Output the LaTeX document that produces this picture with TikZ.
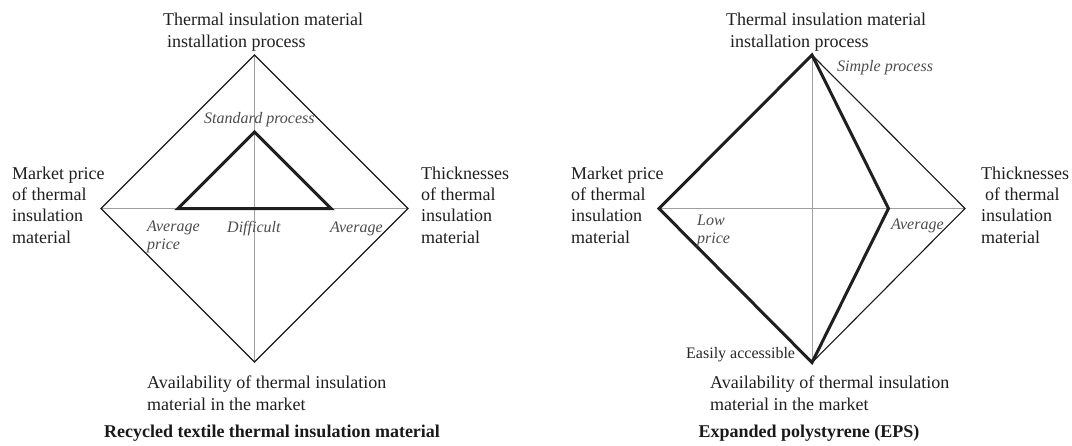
\documentclass[tikz,border=0pt]{standalone}
\usepackage{fontspec}
\setmainfont{Liberation Serif}
\begin{document}
\begin{tikzpicture}[x=1pt,y=-1pt,
  axisline/.style={draw=gray!75, line width=1pt},
  outline/.style={draw=black!90, line width=1.1pt, line join=miter},
  profile/.style={draw=black!88, line width=3pt, line join=miter},
  mainlbl/.style={inner sep=0pt, anchor=base west, align=left, text=black!88,
    font=\fontsize{18}{21.3}\selectfont},
  vallbl/.style={inner sep=0pt, anchor=base west, align=left, text=black!70,
    font=\fontsize{16}{17.5}\selectfont\itshape},
  smalllbl/.style={inner sep=0pt, anchor=base west, text=black!85,
    font=\fontsize{16}{18}\selectfont},
  titlelbl/.style={inner sep=0pt, anchor=base, text=black!90,
    font=\fontsize{18}{21}\selectfont\bfseries}]
\useasboundingbox (0,0) rectangle (1072,445);

% ---------- left diagram ----------
\coordinate (LC) at (254.5,208.5);
\coordinate (LT) at (254.5,55);
\coordinate (LB) at (254.5,362);
\coordinate (LL) at (101,208.5);
\coordinate (LR) at (408,208.5);
\coordinate (LiT) at (254.5,132);
\coordinate (LiL) at (178,208.5);
\coordinate (LiR) at (331,208.5);

\draw[axisline] (LT) -- (LB);
\draw[axisline] (LL) -- (LR);
\draw[outline] (LT) -- (LR) -- (LB) -- (LL) -- cycle;
\draw[profile] (LiT) -- (LiR) -- (LiL) -- cycle;

% multi-line nodes: base anchor = baseline of last line
\node[mainlbl] (lt) at (163,47) {Thermal insulation material\\\hspace*{4pt}installation process};
\node[mainlbl] (ll) at (12,243) {Market price\\of thermal\\insulation\\material};
\node[mainlbl] (lr) at (421,243) {Thicknesses\\of thermal\\insulation\\material};
\node[mainlbl] (lb) at (147,410) {Availability of thermal insulation\\material in the market};
\node[titlelbl] (ltitle) at (272,437) {Recycled textile thermal insulation material};

\node[vallbl] (lv1) at (204,123) {Standard process};
\node[vallbl] (lv2) at (147,249) {Average\\price};
\node[vallbl] (lv3) at (227,232) {Difficult};
\node[vallbl] (lv4) at (330,232) {Average};

% ---------- right diagram ----------
\coordinate (RC) at (812,208.5);
\coordinate (RT) at (812,55);
\coordinate (RB) at (812,362.5);
\coordinate (RL) at (659,208.5);
\coordinate (RR) at (965,208.5);
\coordinate (RiR) at (888.5,208.5);

\draw[axisline] (RT) -- (RB);
\draw[axisline] (RL) -- (RR);
\draw[outline] (RT) -- (RR) -- (RB) -- (RL) -- cycle;
\draw[profile] (RT) -- (RL) -- (RB) -- (RiR) -- cycle;

\node[mainlbl] (rt) at (726,47) {Thermal insulation material\\\hspace*{4pt}installation process};
\node[mainlbl] (rl) at (571,243) {Market price\\of thermal\\insulation\\material};
\node[mainlbl] (rr) at (981,243) {Thicknesses\\\hspace*{4pt}of thermal\\insulation\\material};
\node[mainlbl] (rb) at (710,410) {Availability of thermal insulation\\material in the market};
\node[titlelbl] (rtitle) at (809,437) {Expanded polystyrene (EPS)};

\node[vallbl] (rv1) at (837,71) {Simple process};
\node[vallbl] (rv2) at (697,243) {Low\\price};
\node[vallbl] (rv3) at (891,229) {Average};
\node[smalllbl] (rv4) at (686,358) {Easily accessible};
\end{tikzpicture}
\end{document}
